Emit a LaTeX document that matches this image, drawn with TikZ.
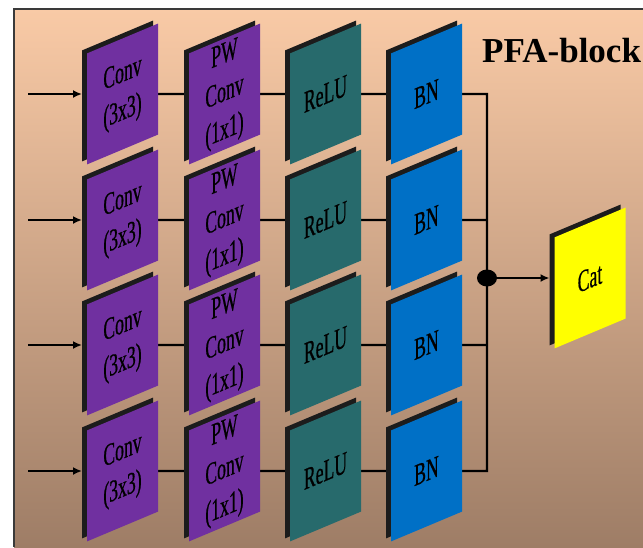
\documentclass[tikz,border=0pt]{standalone}
\usepackage{fontspec}
\setmainfont{Liberation Serif}
\newfontfamily\condfont[FakeStretch=0.57,FakeBold=0.5]{Liberation Serif}
\usetikzlibrary{arrows.meta,shapes.geometric}
\pgfdeclarelayer{back}
\pgfdeclarelayer{bg}
\pgfsetlayers{back,bg,main}
\definecolor{convc}{HTML}{7030A0}
\definecolor{reluc}{HTML}{276A6C}
\definecolor{bnc}{HTML}{0070C6}
\definecolor{catc}{HTML}{FFFF00}
\definecolor{edgec}{HTML}{1C1C1C}
\definecolor{framec}{HTML}{3A3A3A}
\definecolor{bgtop}{HTML}{F9CAA6}
\definecolor{bgmid}{HTML}{DBAD8F}
\definecolor{bgbot}{HTML}{9E7D66}
\begin{document}
\begin{tikzpicture}[x=1pt,y=-1pt,
  face/.style={minimum width=71pt,minimum height=111pt,inner sep=0pt,outer sep=0pt,
    yslant=0.42,align=center,font=\condfont\fontsize{31}{38}\selectfont},
  edgebox/.style={face,fill=edgec},
  wire/.style={line width=2.2pt,black},
  arr/.style={wire,-{Latex[length=9pt,width=8pt]}},
  title/.style={font=\bfseries\fontsize{35}{40}\selectfont,inner sep=0pt,anchor=base west}]
\useasboundingbox (0,0) rectangle (643,547);
\newcommand\blk[5]{%
  \node[edgebox] (#1d) at (#2-5,#3-3) {};
  \node[face,fill=#4] (#1) at (#2,#3) {#5};}
\begin{pgfonlayer}{back}
  \shade[top color=bgtop,middle color=bgmid,bottom color=bgbot] (14,9) rectangle (643,547);
  \draw[line width=2pt,framec] (14,547) -- (14,9) -- (643,9);
\end{pgfonlayer}
\node[title] (ttl) at (482,62) {PFA-block};
\foreach \r/\y in {1/94,2/220,3/345,4/471}{
  \blk{c\r}{122.5}{\y}{convc}{Conv\\(3x3)}
  \blk{p\r}{224.5}{\y}{convc}{PW\\Conv\\(1x1)}
  \blk{r\r}{325.5}{\y}{reluc}{ReLU}
  \blk{b\r}{426.5}{\y}{bnc}{BN}
  \coordinate (in\r) at (28,\y);
  \draw[arr] (in\r) -- (in\r -| c\r d.west);
}
\blk{cat}{590}{278}{catc}{Cat}
\coordinate (j1) at (487,94);
\coordinate (j4) at (487,471);
\node[ellipse,fill=black,minimum width=20pt,minimum height=17pt,inner sep=0pt] (dot) at (487,278) {};
\begin{pgfonlayer}{bg}
  \foreach \r in {1,...,4}{\draw[wire] (c\r) -- (p\r) -- (r\r) -- (b\r);}
  \draw[wire] (b1) -- (j1) -- (j4) -- (b4);
  \draw[wire] (b2) -- (b2 -| j1);
  \draw[wire] (b3) -- (b3 -| j1);
\end{pgfonlayer}
\draw[arr] (dot) -- (dot -| catd.west);
\end{tikzpicture}
\end{document}
